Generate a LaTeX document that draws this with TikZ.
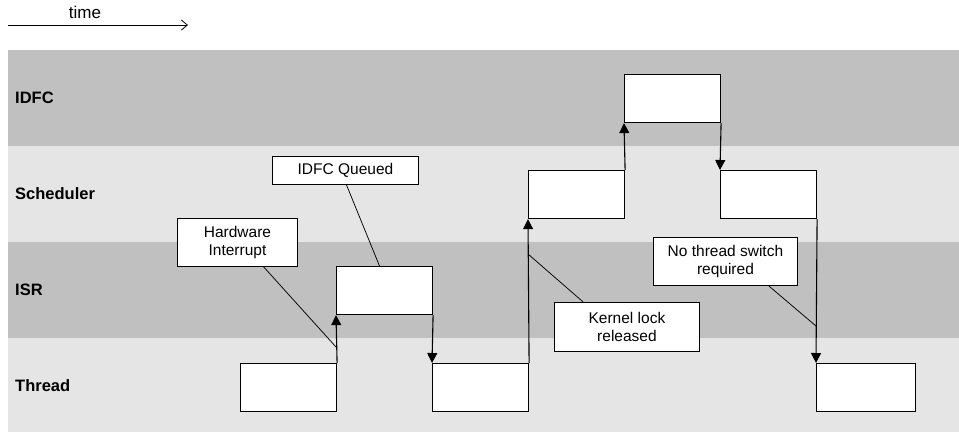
\documentclass[tikz,border=0pt]{standalone}
\usepackage{fontspec}
\setmainfont{Liberation Sans}
\usetikzlibrary{arrows.meta,calc}
\definecolor{banddark}{RGB}{192,192,192}
\definecolor{bandlight}{RGB}{229,229,229}
\tikzset{
  x=1pt, y=-1pt,
  lanelabel/.style={anchor=base west, inner sep=0pt, font=\fontsize{16.5}{18}\selectfont\bfseries},
  execbox/.style={draw=black, fill=white, line width=1.1pt, anchor=north west,
    minimum width=96pt, minimum height=48pt, inner sep=0pt},
  callout/.style={draw=black, fill=white, line width=0.9pt, anchor=north west,
    inner sep=0pt, align=center, font=\fontsize{15.5}{17.5}\selectfont},
  flow/.style={line width=1.1pt, -{Triangle[length=10pt,width=10pt]}},
  leader/.style={line width=0.75pt},
}
\begin{document}
\begin{tikzpicture}
\useasboundingbox (0,0) rectangle (959,432);
\fill[white] (0,0) rectangle (959,432);

% swim lanes
\fill[banddark]  (8,50)  rectangle (959,146);
\fill[bandlight] (8,146) rectangle (959,242);
\fill[banddark]  (8,242) rectangle (959,338);
\fill[bandlight] (8,338) rectangle (959,432);

\node[lanelabel] (lidfc)  at (15,103) {IDFC};
\node[lanelabel] (lsched) at (15,199) {Scheduler};
\node[lanelabel] (lisr)   at (15,295) {ISR};
\node[lanelabel] (lthr)   at (15,391) {Thread};

% time axis
\coordinate (tstart) at (8,25);
\coordinate (tend) at (188,25);
\draw[line width=0.8pt, -{Straight Barb[length=6pt,width=10pt]}] (tstart) -- (tend);
\node[anchor=base, inner sep=0pt, font=\fontsize{17}{19}\selectfont] (tlabel) at (85,18) {time};

% execution blocks
\node[execbox] (t1)   at (240,363) {};
\node[execbox] (isr)  at (336,266) {};
\node[execbox] (t2)   at (432,363) {};
\node[execbox] (s1)   at (528,170) {};
\node[execbox] (idfc) at (624,74)  {};
\node[execbox] (s2)   at (720,170) {};
\node[execbox, minimum width=99pt] (t3) at (816,363) {};

% transitions
\draw[flow] (t1.north east) -- (isr.south west);
\draw[flow] (isr.south east) -- (t2.north west);
\draw[flow] (t2.north east) -- (s1.south west);
\draw[flow] (s1.north east) -- (idfc.south west);
\draw[flow] (idfc.south east) -- (s2.north west);
\draw[flow] (s2.south east) -- (t3.north west);

% callouts
\node[callout, minimum width=120pt, minimum height=48pt] (hw) at (177,218) {Hardware\\Interrupt};
\node[callout, minimum width=146pt, minimum height=28pt] (q)  at (272,156) {IDFC Queued};
\node[callout, minimum width=145pt, minimum height=49pt] (kl) at (554,302) {Kernel lock\\released};
\node[callout, minimum width=144pt, minimum height=48pt] (nts) at (653,237) {No thread switch\\required};

\coordinate (hwhit)  at (336,347);
\coordinate (klhit)  at (528,254);
\coordinate (ntshit) at (816,326);

\draw[leader] ($(hw.south west)!0.717!(hw.south east)$) -- (hwhit);
\draw[leader] ($(q.south west)!0.507!(q.south east)$) -- ($(isr.north west)!0.448!(isr.north east)$);
\draw[leader] ($(kl.north west)!0.2!(kl.north east)$) -- (klhit);
\draw[leader] ($(nts.south west)!0.799!(nts.south east)$) -- (ntshit);
\end{tikzpicture}
\end{document}
